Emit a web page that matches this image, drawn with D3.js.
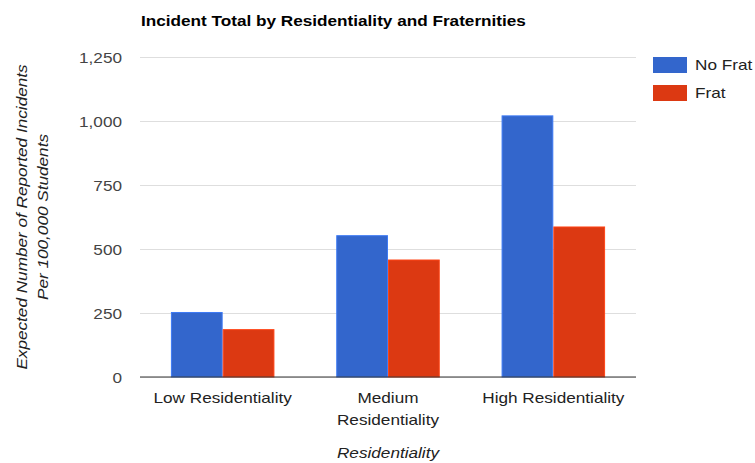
<!DOCTYPE html>
<html>
<head>
<meta charset="utf-8">
<script src="https://cdn.jsdelivr.net/npm/d3@7/dist/d3.min.js"></script>
<style>
  body { margin: 0; background: #fff; }
  text { font-family: Arial, "Liberation Sans", sans-serif; }
</style>
</head>
<body>
<svg id="chart" width="755" height="463"></svg>
<script>
// Expected incidents per 100,000 students, grouped by residentiality level
const categories = [["Low Residentiality"], ["Medium", "Residentiality"], ["High Residentiality"]];
const seriesNames = ["No Frat", "Frat"];
const noFrat = [252, 552, 1020];
const frat = [185, 457, 586];
const yTicks = [0, 250, 500, 750, 1000, 1250];
const colors = ["#3366cc", "#dc3912"];

// Slightly widened lettering
const WIDE = 1.145;
const at = (x, y, rot) => `translate(${x},${y})${rot ? ` rotate(${rot})` : ""} scale(${WIDE},1)`;

const svg = d3.select("#chart");
const m = { left: 140, right: 636, top: 57, bottom: 377 };

const x0 = d3.scaleBand()
  .domain(d3.range(categories.length))
  .range([m.left, m.right])
  .paddingInner(0.38).paddingOuter(0.19);
const x1 = d3.scaleBand()
  .domain(d3.range(seriesNames.length))
  .range([0, x0.bandwidth()])
  .paddingInner(0.02);
const y = d3.scaleLinear().domain([0, 1250]).range([m.bottom, m.top]);

// Gridlines and tick labels
const yAxis = svg.append("g")
  .attr("transform", `translate(${m.left},0)`)
  .call(d3.axisLeft(y).tickValues(yTicks).tickSize(-(m.right - m.left)).tickFormat(d3.format(",")));
yAxis.select(".domain").remove();
yAxis.selectAll(".tick line").attr("stroke", "#dedede").attr("stroke-width", 1);
yAxis.selectAll(".tick text")
  .attr("x", null).attr("dy", "0.35em")
  .attr("transform", at(-18, 0))
  .attr("fill", "#444").style("font-size", "15px");

// Bars
const values = [noFrat, frat];
const groups = svg.append("g").selectAll("g")
  .data(categories.map((c, i) => i))
  .join("g")
  .attr("transform", i => `translate(${x0(i)},0)`);
groups.selectAll("rect")
  .data(i => values.map((s, k) => ({ k, v: s[i] })))
  .join("rect")
  .attr("x", d => x1(d.k))
  .attr("width", x1.bandwidth())
  .attr("y", d => y(d.v))
  .attr("height", d => y(0) - y(d.v))
  .attr("fill", d => colors[d.k])
  .attr("stroke", d => d3.color(colors[d.k]).brighter(0.5))
  .attr("stroke-width", 1);

// Baseline
svg.append("line")
  .attr("x1", m.left).attr("x2", m.right)
  .attr("y1", y(0)).attr("y2", y(0))
  .attr("stroke", "#333").attr("stroke-width", 1);

// Category labels
const xl = svg.append("g").selectAll("text")
  .data(categories)
  .join("text")
  .attr("transform", (d, i) => at(x0(i) + x0.bandwidth() / 2, 403))
  .attr("text-anchor", "middle")
  .attr("fill", "#222")
  .style("font-size", "15px");
xl.selectAll("tspan")
  .data(d => d)
  .join("tspan")
  .attr("x", 0)
  .attr("dy", (d, i) => i === 0 ? 0 : 22)
  .text(d => d);

// Axis titles
svg.append("text")
  .attr("transform", at((m.left + m.right) / 2, 458))
  .attr("text-anchor", "middle").attr("fill", "#222")
  .style("font-size", "15px").style("font-style", "italic")
  .text("Residentiality");

const yt = svg.append("text")
  .attr("transform", at(27, (m.top + m.bottom) / 2, -90))
  .attr("text-anchor", "middle").attr("fill", "#222")
  .style("font-size", "15px").style("font-style", "italic");
yt.append("tspan").attr("x", 0).attr("dy", 0).text("Expected Number of Reported Incidents");
yt.append("tspan").attr("x", 0).attr("dy", 21).text("Per 100,000 Students");

// Title
svg.append("text")
  .attr("transform", at(141, 26))
  .attr("fill", "#000")
  .style("font-size", "15px").style("font-weight", "bold")
  .text("Incident Total by Residentiality and Fraternities");

// Legend
const lg = svg.append("g").selectAll("g")
  .data(seriesNames)
  .join("g")
  .attr("transform", (d, i) => `translate(653,${57 + i * 28})`);
lg.append("rect")
  .attr("width", 34).attr("height", 16)
  .attr("fill", (d, i) => colors[i]);
lg.append("text")
  .attr("transform", at(42, 13))
  .attr("fill", "#222").style("font-size", "15px")
  .text(d => d);
</script>
</body>
</html>
